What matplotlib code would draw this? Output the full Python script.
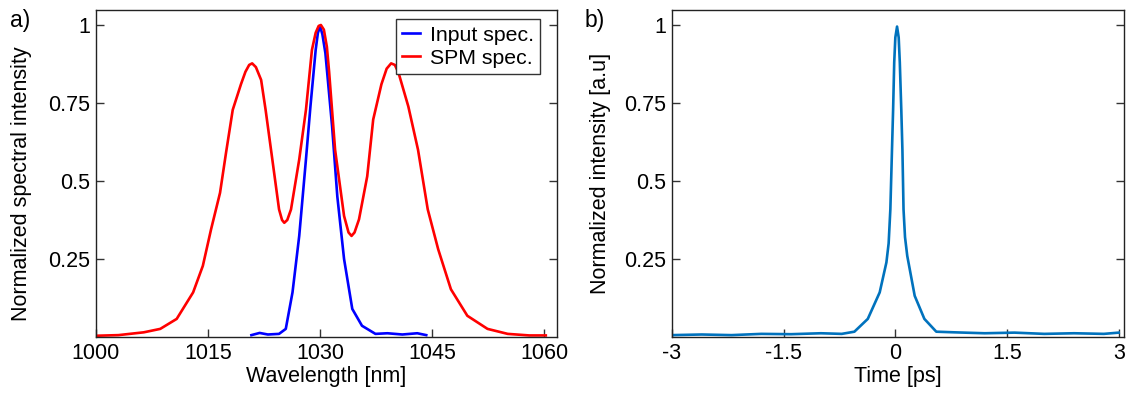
import matplotlib
matplotlib.use("Agg")
import matplotlib.pyplot as plt

plt.rcParams['font.family'] = ['Liberation Sans', 'DejaVu Sans']

# a) spectra
spm_wl = [1000.0, 1003.0, 1006.4, 1008.6, 1010.8, 1013.0, 1014.3, 1015.4, 1016.6,
          1017.4, 1018.3, 1019.4, 1020.0, 1020.5, 1020.9, 1021.4, 1022.1, 1022.7,
          1023.6, 1024.5, 1024.9, 1025.2, 1025.6, 1026.1, 1027.2, 1028.1, 1028.9,
          1029.4, 1029.8, 1030.1, 1030.5, 1030.9, 1031.2, 1032.0, 1033.2, 1033.8,
          1034.2, 1034.6, 1035.2, 1036.3, 1037.1, 1038.2, 1038.9, 1039.5, 1040.0,
          1040.5, 1041.8, 1043.1, 1044.4, 1045.8, 1047.5, 1049.7, 1052.4, 1055.1,
          1058.0, 1060.2]
spm_int = [0.004, 0.006, 0.015, 0.026, 0.058, 0.143, 0.228, 0.345, 0.462,
           0.59, 0.728, 0.81, 0.85, 0.872, 0.877, 0.865, 0.824, 0.728,
           0.569, 0.409, 0.375, 0.366, 0.375, 0.409, 0.569, 0.728, 0.92,
           0.975, 0.997, 1.0, 0.985, 0.93, 0.85, 0.6, 0.388, 0.335,
           0.324, 0.335, 0.377, 0.515, 0.697, 0.81, 0.86, 0.877, 0.872,
           0.846, 0.739, 0.6, 0.409, 0.281, 0.153, 0.068, 0.026, 0.01,
           0.005, 0.005]

inp_wl = [1020.8, 1021.9, 1023.0, 1024.5, 1025.4, 1026.3, 1027.2, 1028.1, 1028.7,
          1029.4, 1029.7, 1030.0, 1030.3, 1030.7, 1031.6, 1032.3, 1033.2, 1034.3,
          1035.6, 1037.4, 1039.0, 1041.0, 1043.0, 1044.2]
inp_int = [0.006, 0.013, 0.008, 0.01, 0.026, 0.143, 0.324, 0.569, 0.739,
           0.92, 0.975, 0.995, 0.97, 0.91, 0.675, 0.45, 0.25, 0.09,
           0.036, 0.01, 0.012, 0.008, 0.012, 0.006]

# b) temporal profile
t_ps = [-3.0, -2.6, -2.2, -1.8, -1.4, -1.0, -0.72, -0.55, -0.37, -0.21, -0.12,
        -0.09, -0.067, -0.045, -0.03, -0.015, 0.0, 0.023, 0.045, 0.06, 0.08,
        0.095, 0.11, 0.13, 0.16, 0.26, 0.39, 0.55, 0.79, 1.2, 1.6, 2.0, 2.4,
        2.8, 3.0]
t_int = [0.006, 0.008, 0.006, 0.01, 0.009, 0.012, 0.01, 0.017, 0.058, 0.143, 0.239,
         0.3, 0.409, 0.6, 0.728, 0.88, 0.96, 0.995, 0.96, 0.88, 0.728,
         0.6, 0.409, 0.32, 0.26, 0.132, 0.058, 0.017, 0.015, 0.012, 0.014, 0.01,
         0.012, 0.01, 0.014]

fs = 15.5
fig = plt.figure(figsize=(11.28, 3.93), dpi=100)
ax1 = fig.add_axes([0.0851, 0.1425, 0.4087, 0.832])
ax2 = fig.add_axes([0.5957, 0.1425, 0.4007, 0.832])

ax1.plot(inp_wl, inp_int, color='#0000ff', lw=1.9, label='Input spec.')
ax1.plot(spm_wl, spm_int, color='#ff0000', lw=1.9, label='SPM spec.')
ax1.set_xlim(1000.5, 1061.7)
ax1.set_xticks([1000, 1015, 1030, 1045, 1060])
ax1.set_xlabel('Wavelength [nm]', fontsize=fs, labelpad=2)
ax1.set_ylabel('Normalized spectral intensity', fontsize=fs, labelpad=12)
ax1.yaxis.label.set_y(0.47)
leg = ax1.legend(loc='upper right', bbox_to_anchor=(0.963, 0.972), fontsize=15.3,
                 handlelength=0.85, handletextpad=0.45, borderpad=0.3,
                 labelspacing=0.2, fancybox=False, framealpha=1,
                 borderaxespad=0)
leg.get_frame().set_edgecolor('#333333')
leg.get_frame().set_linewidth(1.0)

ax2.plot(t_ps, t_int, color='#0072BD', lw=1.9)
ax2.set_xlim(-3, 3.07)
ax2.set_xticks([-3, -1.5, 0, 1.5, 3])
ax2.set_xticklabels(['-3', '-1.5', '0', '1.5', '3'])
ax2.set_xlabel('Time [ps]', fontsize=fs, labelpad=2)
ax2.set_ylabel('Normalized intensity [a.u]', fontsize=fs, labelpad=10)

for ax in (ax1, ax2):
    ax.set_ylim(0, 1.048)
    ax.set_yticks([0.25, 0.5, 0.75, 1])
    ax.set_yticklabels(['0.25', '0.5', '0.75', '1'])
    ax.tick_params(direction='in', length=6, width=1, colors='#333333',
                   labelcolor='black', labelsize=fs, right=True, pad=4)
    for s in ax.spines.values():
        s.set_color('#222222')
        s.set_linewidth(1.0)

fig.text(0.009, 0.947, 'a)', fontsize=16.5, va='center')
fig.text(0.518, 0.947, 'b)', fontsize=16.5, va='center')

fig.savefig('out.png', dpi=100)
